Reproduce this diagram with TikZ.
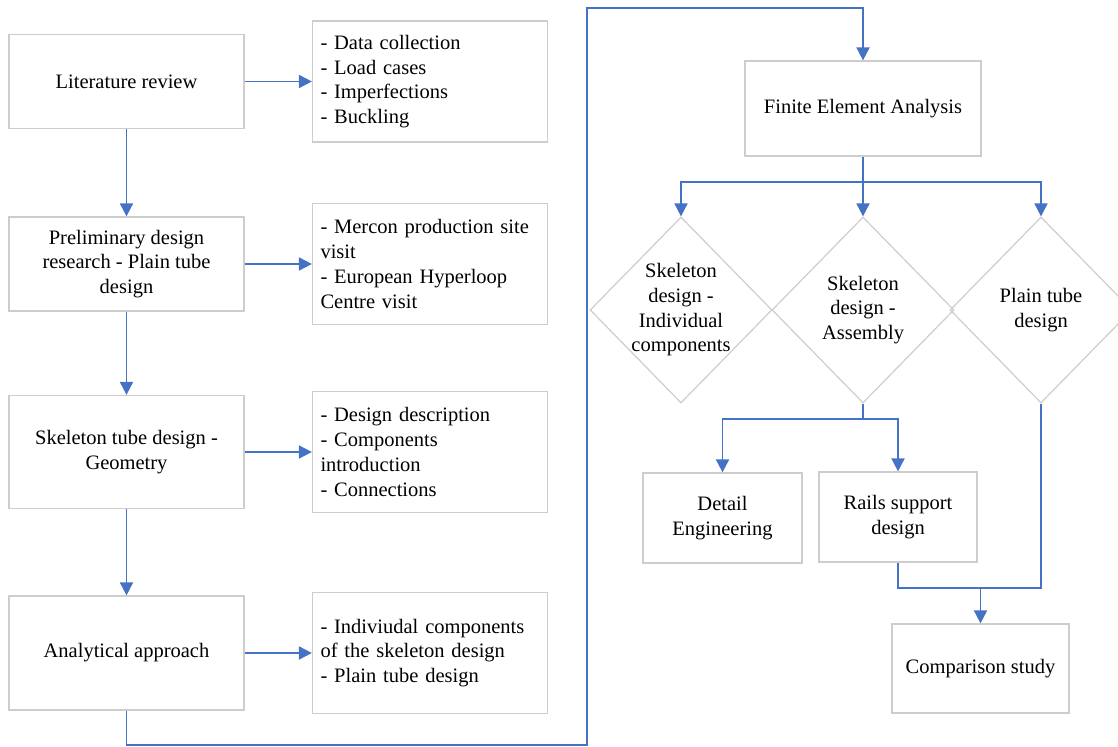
\documentclass[tikz,border=0pt]{standalone}
\usepackage{fontspec}
\setmainfont{Liberation Serif}
\usetikzlibrary{arrows.meta,shapes.geometric}
\definecolor{flowblue}{RGB}{68,114,196}
\definecolor{boxgray}{RGB}{205,205,205}
\tikzset{
  box/.style={rectangle, draw=boxgray, line width=0.6pt, align=center, inner sep=2pt,
    minimum width=117.5pt, font=\fontsize{10.25}{12.35}\selectfont},
  notes/.style={box, align=left, text width=109.5pt, inner xsep=4pt, minimum height=60.5pt},
  decision/.style={diamond, draw=boxgray, line width=0.6pt, inner sep=0pt,
    minimum width=91pt, minimum height=93pt},
  dtext/.style={align=center, inner sep=0pt, font=\fontsize{10.25}{12.35}\selectfont},
  link/.style={draw=flowblue, line width=0.9pt},
  flow/.style={link, -{Triangle[length=6.5pt,width=6.5pt]}}
}
\begin{document}
\begin{tikzpicture}[x=0.5pt, y=-0.5pt]
    \useasboundingbox (0,0) rectangle (1118,747);

    % left column
    \node[box, minimum height=47pt] (lit) at (126.5,81.5) {Literature review};
    \node[box, minimum height=47pt] (prelim) at (126.5,264) {Preliminary design\\research - Plain tube\\design};
    \node[box, minimum height=56.5pt] (skel) at (126.5,452) {Skeleton tube design -\\Geometry};
    \node[box, minimum height=57pt] (anal) at (126.5,653) {Analytical approach};

    \node[notes] (data) at (430,81.5) {- Data collection\\- Load cases\\- Imperfections\\- Buckling};
    \node[notes] (mercon) at (430,264) {- Mercon production site\\visit\\- European Hyperloop\\Centre visit};
    \node[notes] (desc) at (430,452) {- Design description\\- Components\\introduction\\- Connections};
    \node[notes] (indiv) at (430,653) {- Indiviudal components\\of the skeleton design\\- Plain tube design};

    \foreach \a/\b in {lit/data, prelim/mercon, skel/desc, anal/indiv}
        \draw[flow] (\a.east) -- (\b.west);
    \foreach \a/\b in {lit/prelim, prelim/skel, skel/anal}
        \draw[flow] (\a.south) -- (\b.north);

    % right part
    \node[box, minimum width=118pt, minimum height=47.5pt] (fea) at (863,108.5) {Finite Element Analysis};

    \node[decision] (d1) at (681,310) {};
    \node[decision] (d2) at (863,310) {};
    \node[decision] (d3) at (1041,310) {};
    \node[dtext] (d1t) at (d1) {Skeleton\\design -\\Individual\\components};
    \node[dtext] (d2t) at (d2) {Skeleton\\design -\\Assembly};
    \node[dtext] (d3t) at (d3) {Plain tube\\design};

    \node[box, minimum width=79.5pt, minimum height=45pt] (detail) at (722.5,518) {Detail\\Engineering};
    \node[box, minimum width=79pt, minimum height=45pt] (rails) at (898,517) {Rails support\\design};
    \node[box, minimum width=88.5pt, minimum height=44.5pt] (comp) at (980.5,668.5) {Comparison study};

    \coordinate (loopbot) at (587,745);
    \coordinate (looptop) at (587,8);
    \coordinate (fsplit) at (863,182);
    \coordinate (dsplit) at (863,419);
    \coordinate (merge) at (980.5,588);

    \draw[flow] (anal.south) |- (loopbot) -- (looptop) -| (fea.north);

    \draw[flow] (fea.south) -- (d2.north);
    \draw[flow] (fsplit) -| (d1.north);
    \draw[flow] (fsplit) -| (d3.north);

    \draw[link] (d2.south) -- (dsplit);
    \draw[flow] (dsplit) -| (detail.north);
    \draw[flow] (dsplit) -| (rails.north);

    \draw[link] (rails.south) |- (merge);
    \draw[link] (d3.south) |- (merge);
    \draw[flow] (merge) -- (comp.north);
\end{tikzpicture}
\end{document}
